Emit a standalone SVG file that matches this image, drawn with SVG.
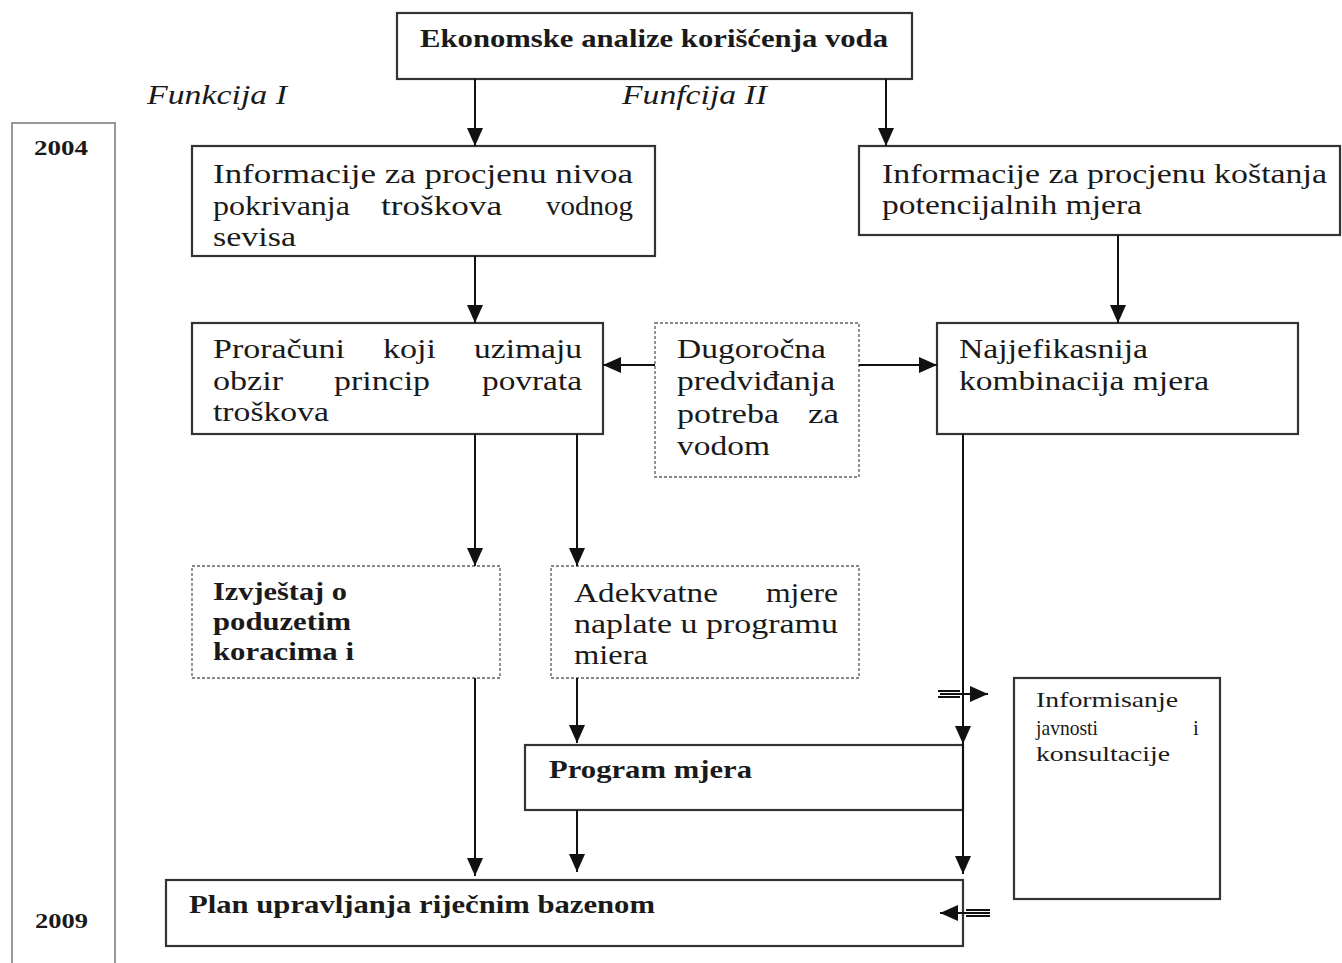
<svg xmlns="http://www.w3.org/2000/svg" width="1342" height="963" viewBox="0 0 1342 963" font-family="'Liberation Serif', 'Times New Roman', Times, serif">
<style>
.bx{fill:#fff;stroke:#333;stroke-width:2.2}
.dbx{fill:#fff;stroke:#888;stroke-width:1.8;stroke-dasharray:3 2}
.tl{fill:none;stroke:#999;stroke-width:2}
text{font-family:'Liberation Serif','Times New Roman',Times,serif;fill:#1a1a1a}
.t{font-size:28px}
.b{font-size:25px;font-weight:bold}
.i{font-size:27px;font-style:italic}
.s{font-size:21px}
.y{font-size:20px;font-weight:bold}
.c{stroke:#111;stroke-width:2;fill:none}
</style>
<defs>
<marker id="ah" markerUnits="userSpaceOnUse" markerWidth="18" markerHeight="16" refX="18" refY="8" orient="auto">
<path d="M0,0 L18,8 L0,16 z" fill="#111"/>
</marker>
</defs>
<rect width="1342" height="963" fill="#fff"/>

<g id="timeline">
<path class="tl" d="M12,963 V123 H115 V963"/>
<text class="y" x="34" y="155" textLength="54" lengthAdjust="spacingAndGlyphs">2004</text>
<text class="y" x="35" y="928" textLength="53" lengthAdjust="spacingAndGlyphs">2009</text>
</g>

<g id="labels">
<text class="i" x="147" y="104" textLength="140" lengthAdjust="spacingAndGlyphs">Funkcija I</text>
<text class="i" x="622" y="104" textLength="145" lengthAdjust="spacingAndGlyphs">Funfcija II</text>
</g>

<g id="top">
<rect class="bx" x="397" y="13" width="515" height="66"/>
<text class="b" x="420" y="47" textLength="468" lengthAdjust="spacingAndGlyphs">Ekonomske analize korišćenja voda</text>
</g>

<g id="info1">
<rect class="bx" x="192" y="146" width="463" height="110"/>
<text class="t" x="213" y="183" textLength="420" lengthAdjust="spacingAndGlyphs">Informacije za procjenu nivoa</text>
<text class="t" x="213" y="215" textLength="137" lengthAdjust="spacingAndGlyphs">pokrivanja</text>
<text class="t" x="381" y="215" textLength="121" lengthAdjust="spacingAndGlyphs">troškova</text>
<text class="t" x="546" y="215" textLength="87" lengthAdjust="spacingAndGlyphs">vodnog</text>
<text class="t" x="213" y="246" textLength="83" lengthAdjust="spacingAndGlyphs">sevisa</text>
</g>

<g id="info2">
<rect class="bx" x="859" y="146" width="481" height="89"/>
<text class="t" x="882" y="183" textLength="445" lengthAdjust="spacingAndGlyphs">Informacije za procjenu koštanja</text>
<text class="t" x="882" y="214" textLength="260" lengthAdjust="spacingAndGlyphs">potencijalnih mjera</text>
</g>

<g id="proracuni">
<rect class="bx" x="192" y="323" width="411" height="111"/>
<text class="t" x="213" y="358" textLength="132" lengthAdjust="spacingAndGlyphs">Proračuni</text>
<text class="t" x="383" y="358" textLength="53" lengthAdjust="spacingAndGlyphs">koji</text>
<text class="t" x="474" y="358" textLength="108" lengthAdjust="spacingAndGlyphs">uzimaju</text>
<text class="t" x="213" y="390" textLength="70" lengthAdjust="spacingAndGlyphs">obzir</text>
<text class="t" x="334" y="390" textLength="96" lengthAdjust="spacingAndGlyphs">princip</text>
<text class="t" x="482" y="390" textLength="100" lengthAdjust="spacingAndGlyphs">povrata</text>
<text class="t" x="213" y="421" textLength="116" lengthAdjust="spacingAndGlyphs">troškova</text>
</g>

<g id="dugorocna">
<rect class="dbx" x="655" y="323" width="204" height="154"/>
<text class="t" x="677" y="358" textLength="149" lengthAdjust="spacingAndGlyphs">Dugoročna</text>
<text class="t" x="677" y="390" textLength="158" lengthAdjust="spacingAndGlyphs">predviđanja</text>
<text class="t" x="677" y="423" textLength="102" lengthAdjust="spacingAndGlyphs">potreba</text>
<text class="t" x="808" y="423" textLength="31" lengthAdjust="spacingAndGlyphs">za</text>
<text class="t" x="677" y="455" textLength="93" lengthAdjust="spacingAndGlyphs">vodom</text>
</g>

<g id="najefikasnija">
<rect class="bx" x="937" y="323" width="361" height="111"/>
<text class="t" x="959" y="358" textLength="189" lengthAdjust="spacingAndGlyphs">Najjefikasnija</text>
<text class="t" x="959" y="390" textLength="250" lengthAdjust="spacingAndGlyphs">kombinacija mjera</text>
</g>

<g id="izvjestaj">
<rect class="dbx" x="192" y="566" width="308" height="112"/>
<text class="b" x="213" y="600" textLength="134" lengthAdjust="spacingAndGlyphs">Izvještaj o</text>
<text class="b" x="213" y="630" textLength="138" lengthAdjust="spacingAndGlyphs">poduzetim</text>
<text class="b" x="213" y="660" textLength="141" lengthAdjust="spacingAndGlyphs">koracima i</text>
</g>

<g id="adekvatne">
<rect class="dbx" x="551" y="566" width="308" height="112"/>
<text class="t" x="574" y="602" textLength="144" lengthAdjust="spacingAndGlyphs">Adekvatne</text>
<text class="t" x="766" y="602" textLength="72" lengthAdjust="spacingAndGlyphs">mjere</text>
<text class="t" x="574" y="633" textLength="264" lengthAdjust="spacingAndGlyphs">naplate u programu</text>
<text class="t" x="574" y="664" textLength="74" lengthAdjust="spacingAndGlyphs">miera</text>
</g>

<g id="program">
<rect class="bx" x="525" y="745" width="438" height="65"/>
<text class="b" x="549" y="778" textLength="203" lengthAdjust="spacingAndGlyphs">Program mjera</text>
</g>

<g id="informisanje">
<rect class="bx" x="1014" y="678" width="206" height="221"/>
<text class="s" x="1036" y="707" textLength="142" lengthAdjust="spacingAndGlyphs">Informisanje</text>
<text class="s" x="1036" y="735" textLength="62" lengthAdjust="spacingAndGlyphs">javnosti</text>
<text class="s" x="1193" y="735">i</text>
<text class="s" x="1036" y="761" textLength="134" lengthAdjust="spacingAndGlyphs">konsultacije</text>
</g>

<g id="plan">
<rect class="bx" x="166" y="880" width="797" height="66"/>
<text class="b" x="189" y="913" textLength="466" lengthAdjust="spacingAndGlyphs">Plan upravljanja riječnim bazenom</text>
</g>

<g id="connectors">
<path class="c" d="M475,79 V146" marker-end="url(#ah)"/>
<path class="c" d="M886,79 V146" marker-end="url(#ah)"/>
<path class="c" d="M475,256 V323" marker-end="url(#ah)"/>
<path class="c" d="M1118,235 V323" marker-end="url(#ah)"/>
<path class="c" d="M655,365 H603" marker-end="url(#ah)"/>
<path class="c" d="M859,365 H937" marker-end="url(#ah)"/>
<path class="c" d="M475,434 V566" marker-end="url(#ah)"/>
<path class="c" d="M577,434 V566" marker-end="url(#ah)"/>
<path class="c" d="M475,678 V876" marker-end="url(#ah)"/>
<path class="c" d="M577,678 V743" marker-end="url(#ah)"/>
<path class="c" d="M577,810 V872" marker-end="url(#ah)"/>
<path class="c" d="M963,434 V744" marker-end="url(#ah)"/>
<path class="c" d="M963,744 V874" marker-end="url(#ah)"/>
<path class="c" d="M938,691 H960 M938,697 H960"/>
<path class="c" d="M940,694 H988" marker-end="url(#ah)"/>
<path class="c" d="M966,910 H990 M966,916 H990"/>
<path class="c" d="M990,913 H940" marker-end="url(#ah)"/>
</g>
</svg>
